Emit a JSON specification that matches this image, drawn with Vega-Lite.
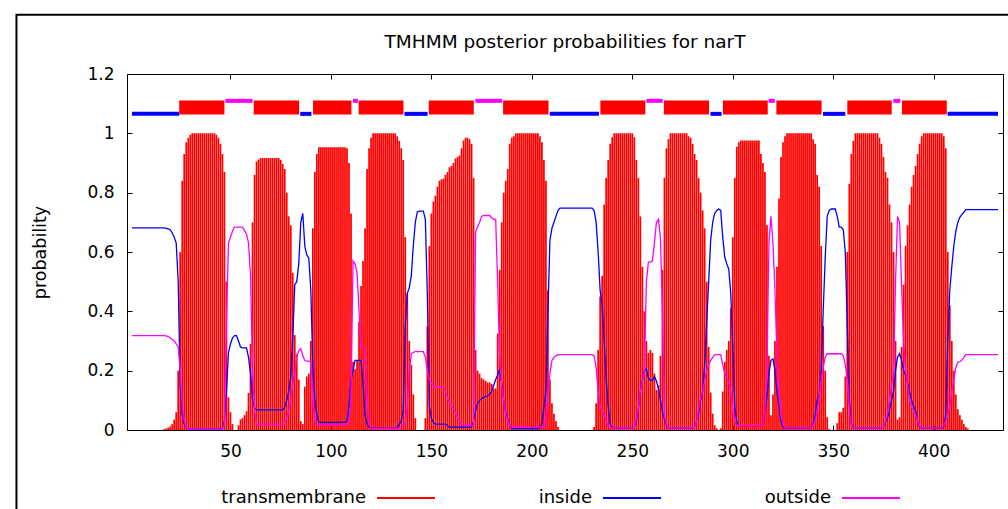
{
"$schema":"https://vega.github.io/schema/vega-lite/v6.json",
"width":876,"height":356,
"autosize":{"type":"none"},
"padding":{"left":127,"top":74,"right":5,"bottom":79},
"background":"white",
"config":{"view":{"stroke":null},"font":"DejaVu Sans"},
"title":{"text":"TMHMM posterior probabilities for narT","font":"DejaVu Sans","fontSize":18.5,"fontWeight":"normal","color":"#000","offset":-38},
"datasets":{
"probs":[
{"p":1,"tm":0,"inside":0.681,"outside":0.318},{"p":2,"tm":0,"inside":0.681,"outside":0.318},{"p":3,"tm":0,"inside":0.681,"outside":0.318},{"p":4,"tm":0,"inside":0.681,"outside":0.318},
{"p":5,"tm":0,"inside":0.681,"outside":0.318},{"p":6,"tm":0,"inside":0.681,"outside":0.318},{"p":7,"tm":0,"inside":0.681,"outside":0.318},{"p":8,"tm":0,"inside":0.681,"outside":0.318},
{"p":9,"tm":0,"inside":0.681,"outside":0.318},{"p":10,"tm":0,"inside":0.681,"outside":0.318},{"p":11,"tm":0,"inside":0.681,"outside":0.318},{"p":12,"tm":0,"inside":0.681,"outside":0.318},
{"p":13,"tm":0,"inside":0.681,"outside":0.318},{"p":14,"tm":0,"inside":0.681,"outside":0.318},{"p":15,"tm":0,"inside":0.681,"outside":0.318},{"p":16,"tm":0,"inside":0.681,"outside":0.318},
{"p":17,"tm":0.003,"inside":0.681,"outside":0.318},{"p":18,"tm":0.005,"inside":0.68,"outside":0.317},{"p":19,"tm":0.008,"inside":0.678,"outside":0.315},{"p":20,"tm":0.012,"inside":0.675,"outside":0.31},
{"p":21,"tm":0.02,"inside":0.665,"outside":0.305},{"p":22,"tm":0.035,"inside":0.65,"outside":0.3},{"p":23,"tm":0.06,"inside":0.63,"outside":0.29},{"p":24,"tm":0.2,"inside":0.5,"outside":0.28},
{"p":25,"tm":0.6,"inside":0.15,"outside":0.2},{"p":26,"tm":0.84,"inside":0.05,"outside":0.08},{"p":27,"tm":0.93,"inside":0.02,"outside":0.03},{"p":28,"tm":0.97,"inside":0.008,"outside":0.01},
{"p":29,"tm":0.985,"inside":0.003,"outside":0.003},{"p":30,"tm":0.995,"inside":0.003,"outside":0.003},{"p":31,"tm":1,"inside":0.003,"outside":0.003},{"p":32,"tm":1,"inside":0.003,"outside":0.003},
{"p":33,"tm":1,"inside":0.003,"outside":0.003},{"p":34,"tm":1,"inside":0.003,"outside":0.003},{"p":35,"tm":1,"inside":0.003,"outside":0.003},{"p":36,"tm":1,"inside":0.003,"outside":0.003},
{"p":37,"tm":1,"inside":0.003,"outside":0.003},{"p":38,"tm":1,"inside":0.003,"outside":0.003},{"p":39,"tm":1,"inside":0.003,"outside":0.003},{"p":40,"tm":1,"inside":0.003,"outside":0.003},
{"p":41,"tm":1,"inside":0.003,"outside":0.003},{"p":42,"tm":1,"inside":0.003,"outside":0.003},{"p":43,"tm":0.995,"inside":0.003,"outside":0.003},{"p":44,"tm":0.985,"inside":0.003,"outside":0.003},
{"p":45,"tm":0.965,"inside":0.003,"outside":0.003},{"p":46,"tm":0.93,"inside":0.005,"outside":0.003},{"p":47,"tm":0.87,"inside":0.03,"outside":0.02},{"p":48,"tm":0.5,"inside":0.13,"outside":0.36},
{"p":49,"tm":0.11,"inside":0.26,"outside":0.63},{"p":50,"tm":0.06,"inside":0.29,"outside":0.65},{"p":51,"tm":0.02,"inside":0.31,"outside":0.67},{"p":52,"tm":0,"inside":0.318,"outside":0.684},
{"p":53,"tm":0,"inside":0.318,"outside":0.684},{"p":54,"tm":0.016,"inside":0.3,"outside":0.684},{"p":55,"tm":0.036,"inside":0.28,"outside":0.684},{"p":56,"tm":0.04,"inside":0.277,"outside":0.684},
{"p":57,"tm":0.05,"inside":0.277,"outside":0.672},{"p":58,"tm":0.063,"inside":0.277,"outside":0.66},{"p":59,"tm":0.125,"inside":0.245,"outside":0.63},{"p":60,"tm":0.29,"inside":0.19,"outside":0.52},
{"p":61,"tm":0.7,"inside":0.1,"outside":0.2},{"p":62,"tm":0.86,"inside":0.075,"outside":0.066},{"p":63,"tm":0.905,"inside":0.068,"outside":0.02},{"p":64,"tm":0.912,"inside":0.068,"outside":0.02},
{"p":65,"tm":0.917,"inside":0.068,"outside":0.02},{"p":66,"tm":0.917,"inside":0.068,"outside":0.02},{"p":67,"tm":0.917,"inside":0.068,"outside":0.02},{"p":68,"tm":0.917,"inside":0.068,"outside":0.02},
{"p":69,"tm":0.917,"inside":0.068,"outside":0.02},{"p":70,"tm":0.917,"inside":0.068,"outside":0.02},{"p":71,"tm":0.917,"inside":0.068,"outside":0.02},{"p":72,"tm":0.917,"inside":0.068,"outside":0.02},
{"p":73,"tm":0.917,"inside":0.068,"outside":0.02},{"p":74,"tm":0.917,"inside":0.068,"outside":0.02},{"p":75,"tm":0.91,"inside":0.068,"outside":0.02},{"p":76,"tm":0.897,"inside":0.068,"outside":0.02},
{"p":77,"tm":0.88,"inside":0.077,"outside":0.026},{"p":78,"tm":0.8,"inside":0.1,"outside":0.038},{"p":79,"tm":0.72,"inside":0.13,"outside":0.066},{"p":80,"tm":0.69,"inside":0.18,"outside":0.1},
{"p":81,"tm":0.53,"inside":0.31,"outside":0.155},{"p":82,"tm":0.32,"inside":0.49,"outside":0.19},{"p":83,"tm":0.255,"inside":0.5,"outside":0.245},{"p":84,"tm":0.17,"inside":0.56,"outside":0.268},
{"p":85,"tm":0.03,"inside":0.7,"outside":0.274},{"p":86,"tm":0.02,"inside":0.73,"outside":0.25},{"p":87,"tm":0.146,"inside":0.62,"outside":0.234},{"p":88,"tm":0.18,"inside":0.59,"outside":0.232},
{"p":89,"tm":0.19,"inside":0.58,"outside":0.232},{"p":90,"tm":0.3,"inside":0.47,"outside":0.23},{"p":91,"tm":0.68,"inside":0.22,"outside":0.1},{"p":92,"tm":0.87,"inside":0.1,"outside":0.03},
{"p":93,"tm":0.93,"inside":0.05,"outside":0.017},{"p":94,"tm":0.953,"inside":0.026,"outside":0.017},{"p":95,"tm":0.953,"inside":0.026,"outside":0.017},{"p":96,"tm":0.953,"inside":0.026,"outside":0.017},
{"p":97,"tm":0.953,"inside":0.026,"outside":0.017},{"p":98,"tm":0.953,"inside":0.026,"outside":0.017},{"p":99,"tm":0.953,"inside":0.026,"outside":0.017},{"p":100,"tm":0.953,"inside":0.026,"outside":0.017},
{"p":101,"tm":0.953,"inside":0.026,"outside":0.017},{"p":102,"tm":0.953,"inside":0.026,"outside":0.017},{"p":103,"tm":0.953,"inside":0.026,"outside":0.017},{"p":104,"tm":0.953,"inside":0.026,"outside":0.017},
{"p":105,"tm":0.953,"inside":0.026,"outside":0.017},{"p":106,"tm":0.953,"inside":0.026,"outside":0.017},{"p":107,"tm":0.953,"inside":0.026,"outside":0.017},{"p":108,"tm":0.95,"inside":0.03,"outside":0.017},
{"p":109,"tm":0.9,"inside":0.08,"outside":0.03},{"p":110,"tm":0.73,"inside":0.17,"outside":0.1},{"p":111,"tm":0.23,"inside":0.2,"outside":0.57},{"p":112,"tm":0.205,"inside":0.235,"outside":0.56},
{"p":113,"tm":0.235,"inside":0.235,"outside":0.53},{"p":114,"tm":0.365,"inside":0.235,"outside":0.4},{"p":115,"tm":0.485,"inside":0.235,"outside":0.28},{"p":116,"tm":0.57,"inside":0.15,"outside":0.28},
{"p":117,"tm":0.68,"inside":0.05,"outside":0.27},{"p":118,"tm":0.88,"inside":0.02,"outside":0.1},{"p":119,"tm":0.95,"inside":0.01,"outside":0.02},{"p":120,"tm":0.985,"inside":0.008,"outside":0.006},
{"p":121,"tm":1,"inside":0.006,"outside":0.005},{"p":122,"tm":1,"inside":0.006,"outside":0.005},{"p":123,"tm":1,"inside":0.006,"outside":0.005},{"p":124,"tm":1,"inside":0.006,"outside":0.005},
{"p":125,"tm":1,"inside":0.006,"outside":0.005},{"p":126,"tm":1,"inside":0.006,"outside":0.005},{"p":127,"tm":1,"inside":0.006,"outside":0.005},{"p":128,"tm":1,"inside":0.006,"outside":0.005},
{"p":129,"tm":1,"inside":0.006,"outside":0.005},{"p":130,"tm":1,"inside":0.006,"outside":0.005},{"p":131,"tm":1,"inside":0.006,"outside":0.005},{"p":132,"tm":1,"inside":0.006,"outside":0.005},
{"p":133,"tm":0.99,"inside":0.008,"outside":0.005},{"p":134,"tm":0.975,"inside":0.02,"outside":0.005},{"p":135,"tm":0.95,"inside":0.03,"outside":0.01},{"p":136,"tm":0.91,"inside":0.066,"outside":0.015},
{"p":137,"tm":0.65,"inside":0.35,"outside":0.02},{"p":138,"tm":0.46,"inside":0.46,"outside":0.08},{"p":139,"tm":0.3,"inside":0.48,"outside":0.2},{"p":140,"tm":0.22,"inside":0.52,"outside":0.257},
{"p":141,"tm":0.12,"inside":0.62,"outside":0.262},{"p":142,"tm":0.04,"inside":0.7,"outside":0.264},{"p":143,"tm":0,"inside":0.735,"outside":0.264},{"p":144,"tm":0,"inside":0.738,"outside":0.264},
{"p":145,"tm":0,"inside":0.738,"outside":0.264},{"p":146,"tm":0,"inside":0.738,"outside":0.264},{"p":147,"tm":0.04,"inside":0.71,"outside":0.245},{"p":148,"tm":0.35,"inside":0.45,"outside":0.2},
{"p":149,"tm":0.62,"inside":0.08,"outside":0.167},{"p":150,"tm":0.73,"inside":0.04,"outside":0.16},{"p":151,"tm":0.77,"inside":0.025,"outside":0.15},{"p":152,"tm":0.79,"inside":0.02,"outside":0.144},
{"p":153,"tm":0.82,"inside":0.02,"outside":0.144},{"p":154,"tm":0.84,"inside":0.02,"outside":0.144},{"p":155,"tm":0.845,"inside":0.02,"outside":0.144},{"p":156,"tm":0.847,"inside":0.02,"outside":0.144},
{"p":157,"tm":0.86,"inside":0.02,"outside":0.13},{"p":158,"tm":0.87,"inside":0.015,"outside":0.11},{"p":159,"tm":0.886,"inside":0.01,"outside":0.09},{"p":160,"tm":0.89,"inside":0.01,"outside":0.083},
{"p":161,"tm":0.9,"inside":0.01,"outside":0.07},{"p":162,"tm":0.915,"inside":0.01,"outside":0.06},{"p":163,"tm":0.92,"inside":0.01,"outside":0.04},{"p":164,"tm":0.925,"inside":0.01,"outside":0.03},
{"p":165,"tm":0.95,"inside":0.01,"outside":0.02},{"p":166,"tm":0.976,"inside":0.01,"outside":0.015},{"p":167,"tm":0.985,"inside":0.01,"outside":0.015},{"p":168,"tm":0.985,"inside":0.01,"outside":0.015},
{"p":169,"tm":0.98,"inside":0.01,"outside":0.015},{"p":170,"tm":0.965,"inside":0.01,"outside":0.015},{"p":171,"tm":0.85,"inside":0.03,"outside":0.015},{"p":172,"tm":0.27,"inside":0.066,"outside":0.667},
{"p":173,"tm":0.2,"inside":0.09,"outside":0.684},{"p":174,"tm":0.19,"inside":0.1,"outside":0.7},{"p":175,"tm":0.175,"inside":0.105,"outside":0.72},{"p":176,"tm":0.17,"inside":0.11,"outside":0.723},
{"p":177,"tm":0.165,"inside":0.113,"outside":0.723},{"p":178,"tm":0.16,"inside":0.115,"outside":0.723},{"p":179,"tm":0.16,"inside":0.12,"outside":0.723},{"p":180,"tm":0.155,"inside":0.13,"outside":0.715},
{"p":181,"tm":0.14,"inside":0.15,"outside":0.71},{"p":182,"tm":0.14,"inside":0.17,"outside":0.71},{"p":183,"tm":0.325,"inside":0.185,"outside":0.49},{"p":184,"tm":0.54,"inside":0.206,"outside":0.25},
{"p":185,"tm":0.7,"inside":0.155,"outside":0.15},{"p":186,"tm":0.8,"inside":0.1,"outside":0.1},{"p":187,"tm":0.84,"inside":0.06,"outside":0.05},{"p":188,"tm":0.88,"inside":0.035,"outside":0.03},
{"p":189,"tm":0.965,"inside":0.015,"outside":0.015},{"p":190,"tm":0.985,"inside":0.005,"outside":0.01},{"p":191,"tm":0.99,"inside":0.005,"outside":0.01},{"p":192,"tm":1,"inside":0.005,"outside":0.01},
{"p":193,"tm":1,"inside":0.005,"outside":0.01},{"p":194,"tm":1,"inside":0.005,"outside":0.01},{"p":195,"tm":1,"inside":0.005,"outside":0.01},{"p":196,"tm":1,"inside":0.005,"outside":0.01},
{"p":197,"tm":1,"inside":0.005,"outside":0.01},{"p":198,"tm":1,"inside":0.005,"outside":0.01},{"p":199,"tm":1,"inside":0.005,"outside":0.01},{"p":200,"tm":1,"inside":0.005,"outside":0.01},
{"p":201,"tm":1,"inside":0.005,"outside":0.01},{"p":202,"tm":1,"inside":0.005,"outside":0.01},{"p":203,"tm":1,"inside":0.005,"outside":0.01},{"p":204,"tm":0.99,"inside":0.008,"outside":0.01},
{"p":205,"tm":0.97,"inside":0.02,"outside":0.01},{"p":206,"tm":0.91,"inside":0.077,"outside":0.01},{"p":207,"tm":0.84,"inside":0.13,"outside":0.03},{"p":208,"tm":0.47,"inside":0.4,"outside":0.13},
{"p":209,"tm":0.17,"inside":0.64,"outside":0.19},{"p":210,"tm":0.09,"inside":0.68,"outside":0.234},{"p":211,"tm":0.055,"inside":0.7,"outside":0.245},{"p":212,"tm":0.03,"inside":0.72,"outside":0.25},
{"p":213,"tm":0.01,"inside":0.74,"outside":0.254},{"p":214,"tm":0,"inside":0.748,"outside":0.254},{"p":215,"tm":0,"inside":0.748,"outside":0.254},{"p":216,"tm":0,"inside":0.748,"outside":0.254},
{"p":217,"tm":0,"inside":0.748,"outside":0.254},{"p":218,"tm":0,"inside":0.748,"outside":0.254},{"p":219,"tm":0,"inside":0.748,"outside":0.254},{"p":220,"tm":0,"inside":0.748,"outside":0.254},
{"p":221,"tm":0,"inside":0.748,"outside":0.254},{"p":222,"tm":0,"inside":0.748,"outside":0.254},{"p":223,"tm":0,"inside":0.748,"outside":0.254},{"p":224,"tm":0,"inside":0.748,"outside":0.254},
{"p":225,"tm":0,"inside":0.748,"outside":0.254},{"p":226,"tm":0,"inside":0.748,"outside":0.254},{"p":227,"tm":0,"inside":0.748,"outside":0.254},{"p":228,"tm":0,"inside":0.748,"outside":0.254},
{"p":229,"tm":0,"inside":0.748,"outside":0.254},{"p":230,"tm":0,"inside":0.748,"outside":0.254},{"p":231,"tm":0.01,"inside":0.74,"outside":0.25},{"p":232,"tm":0.09,"inside":0.7,"outside":0.21},
{"p":233,"tm":0.27,"inside":0.6,"outside":0.13},{"p":234,"tm":0.45,"inside":0.47,"outside":0.077},{"p":235,"tm":0.52,"inside":0.42,"outside":0.065},{"p":236,"tm":0.76,"inside":0.3,"outside":0.05},
{"p":237,"tm":0.85,"inside":0.17,"outside":0.03},{"p":238,"tm":0.91,"inside":0.08,"outside":0.015},{"p":239,"tm":0.965,"inside":0.02,"outside":0.01},{"p":240,"tm":0.987,"inside":0.006,"outside":0.006},
{"p":241,"tm":1,"inside":0.006,"outside":0.006},{"p":242,"tm":1,"inside":0.006,"outside":0.006},{"p":243,"tm":1,"inside":0.006,"outside":0.006},{"p":244,"tm":1,"inside":0.006,"outside":0.006},
{"p":245,"tm":1,"inside":0.006,"outside":0.006},{"p":246,"tm":1,"inside":0.006,"outside":0.006},{"p":247,"tm":1,"inside":0.006,"outside":0.006},{"p":248,"tm":1,"inside":0.006,"outside":0.006},
{"p":249,"tm":1,"inside":0.006,"outside":0.006},{"p":250,"tm":1,"inside":0.006,"outside":0.006},{"p":251,"tm":0.987,"inside":0.01,"outside":0.01},{"p":252,"tm":0.91,"inside":0.03,"outside":0.04},
{"p":253,"tm":0.85,"inside":0.07,"outside":0.07},{"p":254,"tm":0.72,"inside":0.13,"outside":0.13},{"p":255,"tm":0.55,"inside":0.167,"outside":0.16},{"p":256,"tm":0.4,"inside":0.2,"outside":0.2},
{"p":257,"tm":0.3,"inside":0.206,"outside":0.5},{"p":258,"tm":0.26,"inside":0.175,"outside":0.566},{"p":259,"tm":0.27,"inside":0.167,"outside":0.566},{"p":260,"tm":0.26,"inside":0.167,"outside":0.57},
{"p":261,"tm":0.19,"inside":0.18,"outside":0.63},{"p":262,"tm":0.135,"inside":0.165,"outside":0.7},{"p":263,"tm":0.15,"inside":0.14,"outside":0.71},{"p":264,"tm":0.25,"inside":0.1,"outside":0.65},
{"p":265,"tm":0.54,"inside":0.06,"outside":0.4},{"p":266,"tm":0.85,"inside":0.035,"outside":0.05},{"p":267,"tm":0.95,"inside":0.015,"outside":0.02},{"p":268,"tm":0.98,"inside":0.006,"outside":0.006},
{"p":269,"tm":1,"inside":0.006,"outside":0.006},{"p":270,"tm":1,"inside":0.006,"outside":0.006},{"p":271,"tm":1,"inside":0.006,"outside":0.006},{"p":272,"tm":1,"inside":0.006,"outside":0.006},
{"p":273,"tm":1,"inside":0.006,"outside":0.006},{"p":274,"tm":1,"inside":0.006,"outside":0.006},{"p":275,"tm":1,"inside":0.006,"outside":0.006},{"p":276,"tm":1,"inside":0.006,"outside":0.006},
{"p":277,"tm":1,"inside":0.006,"outside":0.006},{"p":278,"tm":0.99,"inside":0.006,"outside":0.006},{"p":279,"tm":0.985,"inside":0.006,"outside":0.006},{"p":280,"tm":0.965,"inside":0.006,"outside":0.006},
{"p":281,"tm":0.93,"inside":0.01,"outside":0.01},{"p":282,"tm":0.91,"inside":0.03,"outside":0.03},{"p":283,"tm":0.85,"inside":0.054,"outside":0.07},{"p":284,"tm":0.8,"inside":0.1,"outside":0.11},
{"p":285,"tm":0.74,"inside":0.13,"outside":0.13},{"p":286,"tm":0.68,"inside":0.22,"outside":0.167},{"p":287,"tm":0.5,"inside":0.36,"outside":0.2},{"p":288,"tm":0.28,"inside":0.5,"outside":0.22},
{"p":289,"tm":0.126,"inside":0.64,"outside":0.234},{"p":290,"tm":0.055,"inside":0.7,"outside":0.245},{"p":291,"tm":0.016,"inside":0.73,"outside":0.254},{"p":292,"tm":0.006,"inside":0.74,"outside":0.254},
{"p":293,"tm":0,"inside":0.745,"outside":0.254},{"p":294,"tm":0.006,"inside":0.74,"outside":0.254},{"p":295,"tm":0.13,"inside":0.65,"outside":0.22},{"p":296,"tm":0.23,"inside":0.583,"outside":0.19},
{"p":297,"tm":0.27,"inside":0.56,"outside":0.175},{"p":298,"tm":0.3,"inside":0.543,"outside":0.16},{"p":299,"tm":0.41,"inside":0.46,"outside":0.13},{"p":300,"tm":0.65,"inside":0.28,"outside":0.066},
{"p":301,"tm":0.85,"inside":0.077,"outside":0.03},{"p":302,"tm":0.955,"inside":0.026,"outside":0.017},{"p":303,"tm":0.97,"inside":0.015,"outside":0.015},{"p":304,"tm":0.976,"inside":0.015,"outside":0.015},
{"p":305,"tm":0.976,"inside":0.015,"outside":0.015},{"p":306,"tm":0.976,"inside":0.015,"outside":0.015},{"p":307,"tm":0.976,"inside":0.015,"outside":0.015},{"p":308,"tm":0.976,"inside":0.015,"outside":0.015},
{"p":309,"tm":0.976,"inside":0.015,"outside":0.015},{"p":310,"tm":0.976,"inside":0.015,"outside":0.015},{"p":311,"tm":0.976,"inside":0.015,"outside":0.015},{"p":312,"tm":0.976,"inside":0.015,"outside":0.015},
{"p":313,"tm":0.976,"inside":0.015,"outside":0.015},{"p":314,"tm":0.93,"inside":0.015,"outside":0.015},{"p":315,"tm":0.9,"inside":0.02,"outside":0.02},{"p":316,"tm":0.87,"inside":0.066,"outside":0.07},
{"p":317,"tm":0.69,"inside":0.11,"outside":0.2},{"p":318,"tm":0.25,"inside":0.19,"outside":0.63},{"p":319,"tm":0.05,"inside":0.235,"outside":0.72},{"p":320,"tm":0.12,"inside":0.24,"outside":0.63},
{"p":321,"tm":0.3,"inside":0.2,"outside":0.47},{"p":322,"tm":0.55,"inside":0.13,"outside":0.245},{"p":323,"tm":0.78,"inside":0.08,"outside":0.13},{"p":324,"tm":0.92,"inside":0.03,"outside":0.05},
{"p":325,"tm":0.97,"inside":0.01,"outside":0.02},{"p":326,"tm":0.99,"inside":0.006,"outside":0.006},{"p":327,"tm":1,"inside":0.006,"outside":0.006},{"p":328,"tm":1,"inside":0.006,"outside":0.006},
{"p":329,"tm":1,"inside":0.006,"outside":0.006},{"p":330,"tm":1,"inside":0.006,"outside":0.006},{"p":331,"tm":1,"inside":0.006,"outside":0.006},{"p":332,"tm":1,"inside":0.006,"outside":0.006},
{"p":333,"tm":1,"inside":0.006,"outside":0.006},{"p":334,"tm":1,"inside":0.006,"outside":0.006},{"p":335,"tm":1,"inside":0.006,"outside":0.006},{"p":336,"tm":1,"inside":0.006,"outside":0.006},
{"p":337,"tm":1,"inside":0.006,"outside":0.006},{"p":338,"tm":1,"inside":0.006,"outside":0.006},{"p":339,"tm":1,"inside":0.006,"outside":0.006},{"p":340,"tm":0.98,"inside":0.02,"outside":0.015},
{"p":341,"tm":0.965,"inside":0.05,"outside":0.03},{"p":342,"tm":0.86,"inside":0.1,"outside":0.066},{"p":343,"tm":0.82,"inside":0.12,"outside":0.11},{"p":344,"tm":0.62,"inside":0.2,"outside":0.17},
{"p":345,"tm":0.35,"inside":0.4,"outside":0.21},{"p":346,"tm":0.2,"inside":0.58,"outside":0.245},{"p":347,"tm":0.043,"inside":0.72,"outside":0.257},{"p":348,"tm":0.003,"inside":0.74,"outside":0.257},
{"p":349,"tm":0,"inside":0.745,"outside":0.257},{"p":350,"tm":0,"inside":0.745,"outside":0.257},{"p":351,"tm":0,"inside":0.745,"outside":0.257},{"p":352,"tm":0.023,"inside":0.72,"outside":0.257},
{"p":353,"tm":0.06,"inside":0.684,"outside":0.257},{"p":354,"tm":0.06,"inside":0.684,"outside":0.257},{"p":355,"tm":0.075,"inside":0.675,"outside":0.25},{"p":356,"tm":0.18,"inside":0.6,"outside":0.22},
{"p":357,"tm":0.6,"inside":0.35,"outside":0.167},{"p":358,"tm":0.83,"inside":0.1,"outside":0.07},{"p":359,"tm":0.93,"inside":0.02,"outside":0.015},{"p":360,"tm":0.975,"inside":0.006,"outside":0.006},
{"p":361,"tm":1,"inside":0.006,"outside":0.006},{"p":362,"tm":1,"inside":0.006,"outside":0.006},{"p":363,"tm":1,"inside":0.006,"outside":0.006},{"p":364,"tm":1,"inside":0.006,"outside":0.006},
{"p":365,"tm":1,"inside":0.006,"outside":0.006},{"p":366,"tm":1,"inside":0.006,"outside":0.006},{"p":367,"tm":1,"inside":0.006,"outside":0.006},{"p":368,"tm":1,"inside":0.006,"outside":0.006},
{"p":369,"tm":1,"inside":0.006,"outside":0.006},{"p":370,"tm":1,"inside":0.006,"outside":0.006},{"p":371,"tm":1,"inside":0.006,"outside":0.006},{"p":372,"tm":1,"inside":0.006,"outside":0.006},
{"p":373,"tm":0.985,"inside":0.006,"outside":0.006},{"p":374,"tm":0.965,"inside":0.006,"outside":0.006},{"p":375,"tm":0.92,"inside":0.01,"outside":0.01},{"p":376,"tm":0.87,"inside":0.025,"outside":0.03},
{"p":377,"tm":0.85,"inside":0.04,"outside":0.055},{"p":378,"tm":0.76,"inside":0.066,"outside":0.1},{"p":379,"tm":0.7,"inside":0.1,"outside":0.15},{"p":380,"tm":0.6,"inside":0.13,"outside":0.19},
{"p":381,"tm":0.3,"inside":0.2,"outside":0.5},{"p":382,"tm":0.035,"inside":0.245,"outside":0.72},{"p":383,"tm":0.043,"inside":0.257,"outside":0.7},{"p":384,"tm":0.28,"inside":0.235,"outside":0.49},
{"p":385,"tm":0.49,"inside":0.2,"outside":0.3},{"p":386,"tm":0.62,"inside":0.185,"outside":0.2},{"p":387,"tm":0.69,"inside":0.16,"outside":0.15},{"p":388,"tm":0.76,"inside":0.13,"outside":0.1},
{"p":389,"tm":0.82,"inside":0.1,"outside":0.08},{"p":390,"tm":0.86,"inside":0.08,"outside":0.066},{"p":391,"tm":0.89,"inside":0.066,"outside":0.05},{"p":392,"tm":0.93,"inside":0.03,"outside":0.03},
{"p":393,"tm":0.965,"inside":0.01,"outside":0.015},{"p":394,"tm":0.99,"inside":0.006,"outside":0.006},{"p":395,"tm":1,"inside":0.006,"outside":0.006},{"p":396,"tm":1,"inside":0.006,"outside":0.006},
{"p":397,"tm":1,"inside":0.006,"outside":0.006},{"p":398,"tm":1,"inside":0.006,"outside":0.006},{"p":399,"tm":1,"inside":0.006,"outside":0.006},{"p":400,"tm":1,"inside":0.006,"outside":0.006},
{"p":401,"tm":1,"inside":0.006,"outside":0.006},{"p":402,"tm":1,"inside":0.006,"outside":0.006},{"p":403,"tm":1,"inside":0.006,"outside":0.006},{"p":404,"tm":1,"inside":0.006,"outside":0.006},
{"p":405,"tm":0.99,"inside":0.01,"outside":0.015},{"p":406,"tm":0.95,"inside":0.05,"outside":0.03},{"p":407,"tm":0.6,"inside":0.3,"outside":0.05},{"p":408,"tm":0.42,"inside":0.47,"outside":0.08},
{"p":409,"tm":0.3,"inside":0.55,"outside":0.13},{"p":410,"tm":0.2,"inside":0.62,"outside":0.17},{"p":411,"tm":0.12,"inside":0.67,"outside":0.21},{"p":412,"tm":0.07,"inside":0.7,"outside":0.228},
{"p":413,"tm":0.05,"inside":0.717,"outside":0.23},{"p":414,"tm":0.035,"inside":0.726,"outside":0.235},{"p":415,"tm":0.02,"inside":0.734,"outside":0.245},{"p":416,"tm":0.01,"inside":0.743,"outside":0.254},
{"p":417,"tm":0.005,"inside":0.743,"outside":0.254},{"p":418,"tm":0,"inside":0.743,"outside":0.254},{"p":419,"tm":0,"inside":0.743,"outside":0.254},{"p":420,"tm":0,"inside":0.743,"outside":0.254},
{"p":421,"tm":0,"inside":0.743,"outside":0.254},{"p":422,"tm":0,"inside":0.743,"outside":0.254},{"p":423,"tm":0,"inside":0.743,"outside":0.254},{"p":424,"tm":0,"inside":0.743,"outside":0.254},
{"p":425,"tm":0,"inside":0.743,"outside":0.254},{"p":426,"tm":0,"inside":0.743,"outside":0.254},{"p":427,"tm":0,"inside":0.743,"outside":0.254},{"p":428,"tm":0,"inside":0.743,"outside":0.254},
{"p":429,"tm":0,"inside":0.743,"outside":0.254},{"p":430,"tm":0,"inside":0.743,"outside":0.254},{"p":431,"tm":0,"inside":0.743,"outside":0.254},{"p":432,"tm":0,"inside":0.743,"outside":0.254}
],
"segs":[
{"type":"inside","from":1,"to":24.5},{"type":"TM","from":24.5,"to":47},{"type":"outside","from":47.5,"to":61},
{"type":"TM","from":61.6,"to":84.2},{"type":"inside","from":84.7,"to":90.3},{"type":"TM","from":91.1,"to":110.2},
{"type":"outside","from":111,"to":113.5},{"type":"TM","from":113.8,"to":136.1},{"type":"inside","from":136.6,"to":148.1},
{"type":"TM","from":148.7,"to":171.1},{"type":"outside","from":171.9,"to":185.2},{"type":"TM","from":185.7,"to":208.3},
{"type":"inside","from":208.9,"to":233.4},{"type":"TM","from":234.1,"to":256.5},{"type":"outside","from":257,"to":265.1},
{"type":"TM","from":265.7,"to":288.2},{"type":"inside","from":288.9,"to":294.4},{"type":"TM","from":295.1,"to":317.4},
{"type":"outside","from":317.8,"to":320.9},{"type":"TM","from":321.7,"to":344.2},{"type":"inside","from":344.9,"to":356},
{"type":"TM","from":357,"to":379.1},{"type":"outside","from":379.9,"to":383.4},{"type":"TM","from":384.2,"to":406.5},
{"type":"inside","from":406.9,"to":432}
]
},
"layer":[
{"data":{"values":[{"k":1}]},
 "mark":{"type":"rect","fillOpacity":0,"stroke":"#000","strokeWidth":2,"clip":false},
 "encoding":{
  "x":{"datum":-56.5,"type":"quantitative","scale":{"domain":[1,432],"nice":false,"zero":false},"axis":null},
  "x2":{"datum":600},
  "y":{"datum":1.4,"type":"quantitative","scale":{"domain":[0,1.2],"nice":false},"axis":null},
  "y2":{"datum":-1}}},
{"data":{"name":"probs"},
 "mark":{"type":"bar","width":1.75},
 "encoding":{
  "x":{"field":"p","type":"quantitative","scale":{"domain":[1,432],"nice":false,"zero":false},
   "axis":{"orient":"bottom","values":[50,100,150,200,250,300,350,400],"title":null,"grid":false,"tickSize":-5,"labelPadding":18,"labelFont":"DejaVu Sans","labelFontSize":17,"labelColor":"#000","domainColor":"#000","tickColor":"#000","labelFlush":false}},
  "y":{"field":"tm","type":"quantitative","scale":{"domain":[0,1.2],"nice":false},
   "axis":{"orient":"left","values":[0,0.2,0.4,0.6,0.8,1,1.2],"format":"~g","title":"probability","titleFont":"DejaVu Sans","titleFontSize":17.5,"titleFontWeight":"normal","titleColor":"#000","titlePadding":37,"grid":false,"tickSize":-5,"labelPadding":18,"labelFont":"DejaVu Sans","labelFontSize":17,"labelColor":"#000","domainColor":"#000","tickColor":"#000","labelFlush":false}},
  "y2":{"datum":0},
  "color":{"datum":"transmembrane","type":"nominal",
   "scale":{"domain":["transmembrane","inside","outside"],"range":["#ff0000","#0000ff","#ff00ff"]},
   "legend":{"orient":"none","legendX":249,"legendY":394,"direction":"horizontal","title":null,"symbolType":"stroke","symbolSize":3364,"symbolStrokeWidth":2,"labelFont":"DejaVu Sans","labelFontSize":18,"labelColor":"#000","labelAlign":"right","labelOffset":-70,"columnPadding":99,
    "encode":{"symbols":{"update":{"stroke":{"scale":"color","field":"value"},"strokeWidth":{"value":2},"fill":{"value":"transparent"}}}}}}}},
{"data":{"name":"probs"},
 "mark":{"type":"line","strokeWidth":1.3},
 "encoding":{
  "x":{"field":"p","type":"quantitative","scale":{"domain":[1,432],"nice":false,"zero":false},
   "axis":{"orient":"top","values":[50,100,150,200,250,300,350,400],"labels":false,"title":null,"grid":false,"tickSize":-5,"domainColor":"#000","tickColor":"#000"}},
  "y":{"field":"inside","type":"quantitative","scale":{"domain":[0,1.2],"nice":false},
   "axis":{"orient":"right","values":[0,0.2,0.4,0.6,0.8,1,1.2],"labels":false,"title":null,"grid":false,"tickSize":-5,"domainColor":"#000","tickColor":"#000"}},
  "color":{"datum":"inside","type":"nominal"}}},
{"data":{"name":"probs"},
 "mark":{"type":"line","strokeWidth":1.3},
 "encoding":{
  "x":{"field":"p","type":"quantitative","scale":{"domain":[1,432],"nice":false,"zero":false},"axis":null},
  "y":{"field":"outside","type":"quantitative","scale":{"domain":[0,1.2],"nice":false},"axis":null},
  "color":{"datum":"outside","type":"nominal"}}},
{"data":{"name":"segs"},
 "transform":[{"filter":"datum.type === 'TM'"}],
 "mark":{"type":"rect","color":"#ff0000"},
 "encoding":{
  "x":{"field":"from","type":"quantitative","scale":{"domain":[1,432],"nice":false,"zero":false},"axis":null},
  "x2":{"field":"to"},
  "y":{"datum":1.0634,"type":"quantitative","scale":{"domain":[0,1.2],"nice":false},"axis":null},
  "y2":{"datum":1.1105}}},
{"data":{"name":"segs"},
 "transform":[{"filter":"datum.type === 'inside'"}],
 "mark":{"type":"rule","color":"#0000ff","strokeWidth":4},
 "encoding":{
  "x":{"field":"from","type":"quantitative","scale":{"domain":[1,432],"nice":false,"zero":false},"axis":null},
  "x2":{"field":"to"},
  "y":{"datum":1.0657,"type":"quantitative","scale":{"domain":[0,1.2],"nice":false},"axis":null}}},
{"data":{"name":"segs"},
 "transform":[{"filter":"datum.type === 'outside'"}],
 "mark":{"type":"rule","color":"#ff00ff","strokeWidth":4},
 "encoding":{
  "x":{"field":"from","type":"quantitative","scale":{"domain":[1,432],"nice":false,"zero":false},"axis":null},
  "x2":{"field":"to"},
  "y":{"datum":1.1095,"type":"quantitative","scale":{"domain":[0,1.2],"nice":false},"axis":null}}}
]
}
